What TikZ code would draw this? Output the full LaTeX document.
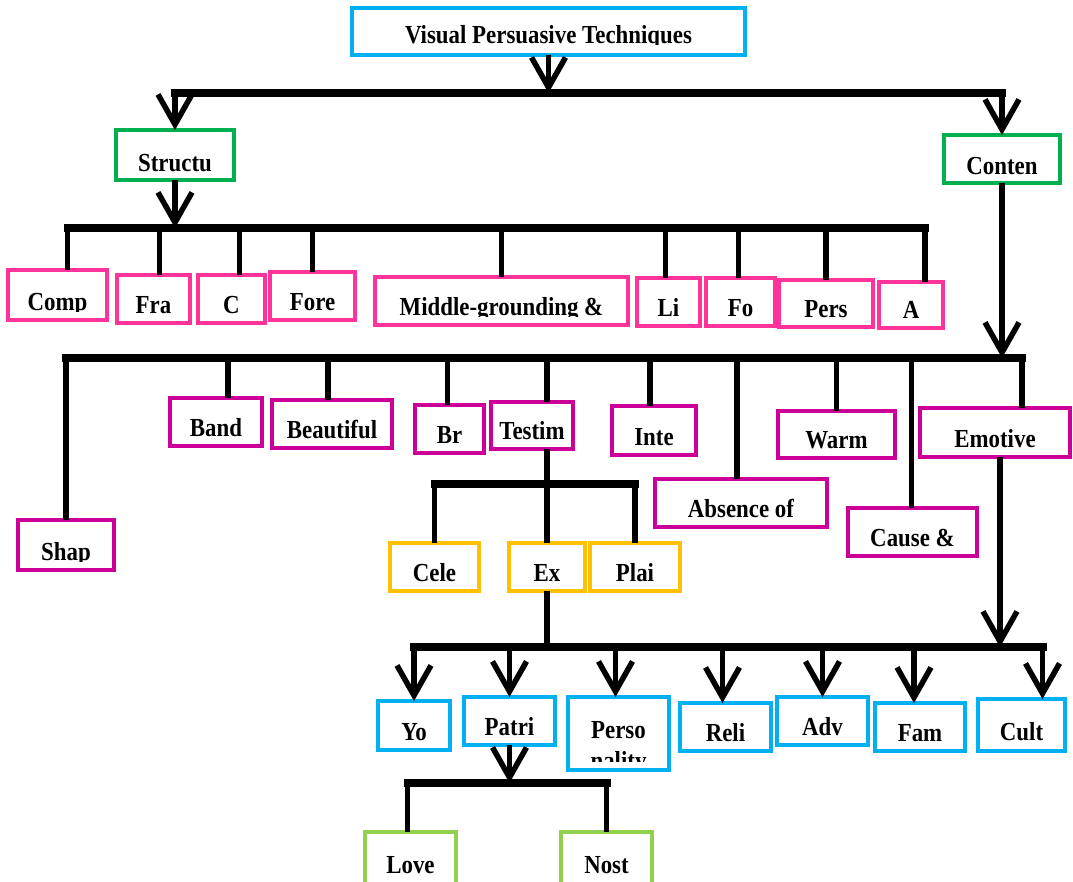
\documentclass[tikz,border=0pt]{standalone}
\usepackage{fontspec}
\setmainfont{Liberation Serif}[FakeStretch=0.88]
\usetikzlibrary{arrows.meta}
\definecolor{cblue}{HTML}{00B0F0}
\definecolor{cgreen}{HTML}{00B050}
\definecolor{cpink}{HTML}{FF3399}
\definecolor{cmag}{HTML}{CC0099}
\definecolor{cgold}{HTML}{FFC000}
\definecolor{clime}{HTML}{92D050}
\tikzset{
 box/.style={draw, line width=4pt, fill=white, inner sep=0pt, outer sep=0pt},
 lbl/.style={font=\fontsize{26}{28}\selectfont\bfseries, inner sep=0pt},
 bar/.style={line width=8pt, line cap=rect},
 link/.style={line width=5.5pt},
 arr/.style={line width=5.5pt, -{Straight Barb[length=30pt,width=34pt]}},
}
% name, x1, y1, x2, y2, colour, text, baseline offset from bottom
\newcommand\bx[8]{%
  \node[box,draw=#6,minimum width={(#4)-(#2)},minimum height={(#5)-(#3)}] (#1) at ({((#2)+(#4))/2},{((#3)+(#5))/2}) {};
  \begin{scope}
    \clip (#2,#3) rectangle (#4,{(#5)-(#8)+1});
    \node[lbl,anchor=base] (#1-t) at ({((#2)+(#4))/2},{(#5)-(#8)}) {#7};
  \end{scope}}
\begin{document}
\begin{tikzpicture}[x=1pt,y=-1pt]
\useasboundingbox[fill=white] (0,0) rectangle (1073,881);
% top
\bx{vpt}{352}{8}{745}{55}{cblue}{Visual Persuasive Techniques}{12}
\bx{structu}{116}{130}{234}{180}{cgreen}{Structu}{9}
\bx{conten}{944}{135}{1060}{183}{cgreen}{Conten}{9}
% structure children
\bx{comp}{8}{270}{107}{320}{cpink}{Comp}{10}
\bx{fra}{117}{275}{190}{323}{cpink}{Fra}{10}
\bx{c}{198}{275}{265}{323}{cpink}{C}{10}
\bx{fore}{270}{272}{355}{320}{cpink}{Fore}{10}
\bx{mid}{375}{277}{628}{325}{cpink}{Middle-grounding \&}{10}
\bx{li}{637}{278}{700}{326}{cpink}{Li}{10}
\bx{fo}{706}{278}{775}{326}{cpink}{Fo}{10}
\bx{pers}{779}{280}{873}{327}{cpink}{Pers}{10}
\bx{a}{879}{282}{943}{328}{cpink}{A}{10}
% content children
\bx{shap}{18}{520}{114}{570}{cmag}{Shap}{10}
\bx{band}{170}{398}{262}{446}{cmag}{Band}{10}
\bx{beau}{272}{400}{392}{448}{cmag}{Beautiful}{10}
\bx{br}{415}{405}{484}{453}{cmag}{Br}{10}
\bx{testim}{491}{402}{573}{449}{cmag}{Testim}{10}
\bx{inte}{612}{406}{696}{455}{cmag}{Inte}{10}
\bx{absence}{655}{479}{827}{527}{cmag}{Absence of}{10}
\bx{warm}{778}{411}{895}{458}{cmag}{Warm}{10}
\bx{cause}{848}{508}{977}{556}{cmag}{Cause \&}{10}
\bx{emotive}{920}{408}{1070}{457}{cmag}{Emotive}{10}
% testimonial children
\bx{cele}{390}{543}{479}{591}{cgold}{Cele}{10}
\bx{ex}{509}{543}{585}{591}{cgold}{Ex}{10}
\bx{plai}{590}{543}{680}{591}{cgold}{Plai}{10}
% emotive children
\bx{yo}{378}{701}{450}{750}{cblue}{Yo}{10}
\bx{patri}{464}{697}{555}{745}{cblue}{Patri}{10}
\bx{perso}{568}{697}{669}{770}{cblue}{Perso}{32}
\begin{scope}
  \clip (568,697) rectangle (669,761);
  \node[lbl,anchor=base] (perso-t2) at (618.5,769) {nality};
\end{scope}
\bx{reli}{680}{703}{771}{751}{cblue}{Reli}{10}
\bx{adv}{777}{697}{868}{745}{cblue}{Adv}{10}
\bx{fam}{875}{703}{965}{751}{cblue}{Fam}{10}
\bx{cult}{978}{699}{1065}{751}{cblue}{Cult}{11}
% patriotism children
\bx{love}{365}{832}{456}{892}{clime}{Love}{19}
\bx{nost}{561}{832}{652}{892}{clime}{Nost}{19}

% ---- connectors ----
\coordinate (b1) at (548.5,93);
\draw[bar] (b1 -| structu.north) -- (b1 -| conten.north);
\draw[arr] (vpt.south) -- (b1);
\draw[arr] (b1 -| structu.north) -- (structu.north);
\draw[arr] (b1 -| conten.north) -- (conten.north);

% structure
\coordinate (b2) at (175,228);
\foreach \n/\s in {comp/10,fra/6,c/8,fore/0,mid/0,li/-3,fo/-2,pers/0,a/14}
  \coordinate (\n-d) at ([xshift=\s pt]\n.north);
\draw[bar] (comp-d |- b2) -- (a-d |- b2);
\draw[arr] (structu.south) -- (b2);
\foreach \n in {comp,fra,c,fore,mid,li,fo,pers,a}
  \draw[link] (\n-d |- b2) -- (\n-d);

% content
\coordinate (b3) at (1002,358);
\foreach \n/\s in {shap/0,band/12,beau/-4,br/-2,testim/15,inte/-4,absence/-4,warm/0,cause/-1,emotive/27}
  \coordinate (\n-d) at ([xshift=\s pt]\n.north);
\draw[bar] (shap-d |- b3) -- (emotive-d |- b3);
\draw[arr] (conten.south) -- (conten.south |- b3);
\foreach \n in {shap,band,beau,br,testim,inte,absence,warm,cause,emotive}
  \draw[link] (\n-d |- b3) -- (\n-d);

% testimonial
\coordinate (testim-s) at ([xshift=15pt]testim.south);
\coordinate (b4) at (547,484);
\foreach \n in {cele,ex,plai}
  \coordinate (\n-d) at (\n.north);
\draw[bar] (cele-d |- b4) -- (plai-d |- b4);
\draw[link] (testim-s) -- (testim-s |- b4);
\foreach \n in {cele,ex,plai}
  \draw[link] (\n-d |- b4) -- (\n-d);

% emotive appeals
\coordinate (b5) at (547,647);
\coordinate (emotive-s) at ([xshift=5pt]emotive.south);
\foreach \n/\s in {yo/0,patri/0,perso/-3,reli/-3,adv/0,fam/-6,cult/21}
  \coordinate (\n-d) at ([xshift=\s pt]\n.north);
\draw[bar] (yo-d |- b5) -- (cult-d |- b5);
\draw[link] (ex.south) -- (ex.south |- b5);
\draw[arr] (emotive-s) -- (emotive-s |- b5);
\foreach \n in {yo,patri,perso,reli,adv,fam,cult}
  \draw[arr] (\n-d |- b5) -- (\n-d);

% patriotism
\coordinate (b6) at (509.5,783);
\coordinate (love-d) at ([xshift=-3pt]love.north);
\coordinate (nost-d) at (nost.north);
\draw[bar] (love-d |- b6) -- (nost-d |- b6);
\draw[arr] (patri.south) -- (b6);
\draw[link] (love-d |- b6) -- (love-d);
\draw[link] (nost-d |- b6) -- (nost-d);
\end{tikzpicture}
\end{document}
